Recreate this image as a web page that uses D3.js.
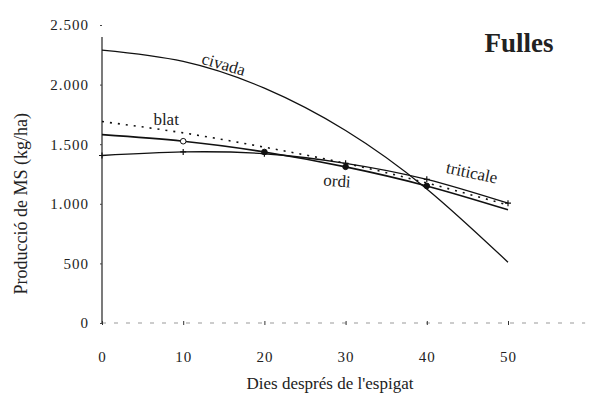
<!DOCTYPE html>
<html>
<head>
<meta charset="utf-8">
<script src="https://cdn.jsdelivr.net/npm/d3@7/dist/d3.min.js"></script>
<style>
  html, body { margin: 0; padding: 0; background: #fff; }
  svg { display: block; }
  text { font-family: "Liberation Serif", "DejaVu Serif", serif; fill: #222; }
</style>
</head>
<body>
<svg id="chart" width="590" height="399"></svg>
<script>
// Days after heading
const days = [0, 10, 20, 30, 40, 50];

// Leaf dry matter yield (kg/ha) for each cereal
const civada    = [2290, 2195, 1970, 1615, 1125, 510];
const blat      = [1690, 1595, 1475, 1340, 1175, 990];
const ordi      = [1580, 1525, 1435, 1310, 1150, 950];
const triticale = [1405, 1435, 1420, 1340, 1205, 1005];

const yTicks = [0, 500, 1000, 1500, 2000, 2500];
const yTickLabels = ["0", "500", "1.000", "1.500", "2.000", "2.500"];
const xTicks = [0, 10, 20, 30, 40, 50];

const svg = d3.select("#chart");

const x = d3.scaleLinear().domain([0, 50]).range([102, 508]);
const y = d3.scaleLinear().domain([0, 2500]).range([323, 25]);

const serif = "'Liberation Serif', 'DejaVu Serif', serif";

// Y axis
const yAxis = d3.axisLeft(y)
  .tickValues(yTicks)
  .tickFormat((d, i) => yTickLabels[i])
  .tickSize(2)
  .tickPadding(11);
const gy = svg.append("g").attr("transform", `translate(${x(0)},0)`).call(yAxis);
gy.select(".domain").attr("stroke", "#333").attr("stroke-width", 1.3)
  .attr("d", `M0,${y(0)}V${y(2400)}`);
gy.selectAll(".tick line").attr("stroke", "#444");
gy.selectAll(".tick text")
  .style("font-family", serif)
  .style("font-size", "15px")
  .style("letter-spacing", "1px")
  .attr("fill", "#333");

// X axis (faint broken baseline)
const xAxis = d3.axisBottom(x)
  .tickValues(xTicks)
  .tickFormat(d3.format("d"))
  .tickSize(2)
  .tickPadding(26);
const gx = svg.append("g").attr("transform", `translate(0,${y(0)})`).call(xAxis);
gx.select(".domain").attr("stroke", "#999").attr("stroke-width", 1)
  .attr("stroke-dasharray", "4,8")
  .attr("d", `M${x(0)},0H${x(59.5)}`);
gx.selectAll(".tick line").attr("stroke", "#333").attr("y1", -2).attr("y2", 2);
gx.selectAll(".tick text")
  .style("font-family", serif)
  .style("font-size", "15px")
  .style("letter-spacing", "1px")
  .attr("fill", "#333");

// Series lines
const line = d3.line()
  .x((d, i) => x(days[i]))
  .y(d => y(d))
  .curve(d3.curveNatural);

const series = [
  { name: "civada", values: civada, dash: null, width: 1.3 },
  { name: "triticale", values: triticale, dash: null, width: 1.3 },
  { name: "ordi", values: ordi, dash: null, width: 1.6 },
  { name: "blat", values: blat, dash: "2,6", width: 1.6 }
];

svg.append("g").selectAll("path")
  .data(series)
  .join("path")
  .attr("d", d => line(d.values))
  .attr("fill", "none")
  .attr("stroke", "#111")
  .attr("stroke-width", d => d.width)
  .attr("stroke-dasharray", d => d.dash);

// Markers: open/filled circles for ordi, small crosses for triticale
svg.append("g").selectAll("circle")
  .data(ordi)
  .join("circle")
  .attr("cx", (d, i) => x(days[i]))
  .attr("cy", d => y(d))
  .attr("r", (d, i) => i === 0 || i === 5 ? 0 : 2.8)
  .attr("fill", (d, i) => i === 1 ? "#fff" : "#111")
  .attr("stroke", "#111")
  .attr("stroke-width", 1);

svg.append("g").selectAll("path")
  .data(triticale)
  .join("path")
  .attr("d", (d, i) => {
    const cx = x(days[i]), cy = y(d);
    return `M${cx - 3},${cy}H${cx + 3}M${cx},${cy - 3}V${cy + 3}`;
  })
  .attr("stroke", "#111")
  .attr("stroke-width", 1.2);

// Series labels
function label(text, xPos, yPos, angle) {
  svg.append("text")
    .attr("transform", `translate(${xPos},${yPos}) rotate(${angle})`)
    .attr("text-anchor", "middle")
    .style("font-family", serif)
    .style("font-size", "17px")
    .text(text);
}
label("civada", x(14.8), y(2125), 16);
label("blat", x(7.9), y(1660), 0);
label("ordi", x(28.9), y(1145), 4);
label("triticale", x(45.4), y(1215), 12);

// Panel title
svg.append("text")
  .attr("x", 519).attr("y", 52)
  .attr("text-anchor", "middle")
  .style("font-family", serif)
  .style("font-size", "27px")
  .style("font-weight", "bold")
  .attr("fill", "#111")
  .text("Fulles");

// Axis titles
svg.append("text")
  .attr("transform", `translate(27,${y(1000)}) rotate(-90)`)
  .attr("text-anchor", "middle")
  .style("font-family", serif)
  .style("font-size", "18px")
  .attr("fill", "#333")
  .text("Producció de MS (kg/ha)");

svg.append("text")
  .attr("x", 330).attr("y", 389)
  .attr("text-anchor", "middle")
  .style("font-family", serif)
  .style("font-size", "17px")
  .attr("fill", "#333")
  .text("Dies després de l'espigat");
</script>
</body>
</html>
